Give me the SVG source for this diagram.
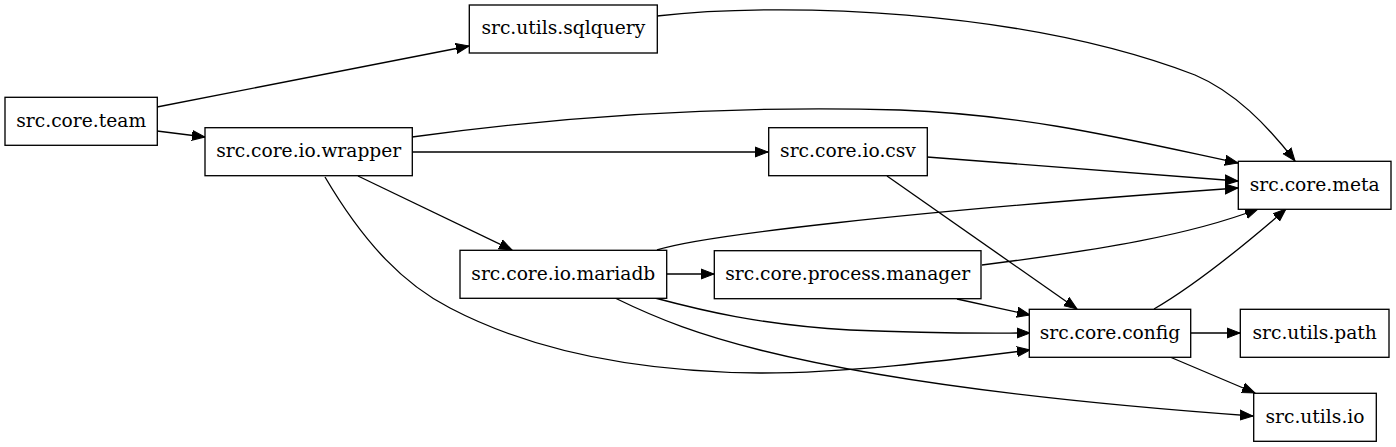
<svg xmlns="http://www.w3.org/2000/svg" width="1396" height="447" viewBox="0 0 1396 447">
<style>
.n rect{fill:#fff;stroke:#000;stroke-width:1.33}
.n text{font-family:"DejaVu Serif",serif;font-size:18.67px;text-anchor:middle;fill:#000}
.e path{fill:none;stroke:#000;stroke-width:1.33;marker-end:url(#ah)}
</style>
<defs>
<marker id="ah" markerUnits="userSpaceOnUse" markerWidth="14" markerHeight="12" refX="13" refY="5" orient="auto" viewBox="0 0 14 10">
<path d="M0,0 L13,5 L0,10 z" fill="#000" stroke="#000" stroke-width="1"/>
</marker>
</defs>
<rect width="1396" height="447" fill="#fff"/>
<g id="edges" class="e">
<path d="M157,107 L469,46"/>
<path d="M157,131 L205,137"/>
<path d="M657,16 C780,2 1020,8 1195,75 C1235,92 1267,125 1295,161"/>
<path d="M412,137 C550,118 720,105 900,110 C1030,115 1130,140 1238,163"/>
<path d="M412,152 L768,152"/>
<path d="M927,157 L1238,181"/>
<path d="M887,176 L1077,309"/>
<path d="M358,176 L512,250"/>
<path d="M325,177 C365,245 405,285 450,308 C540,355 650,372 760,373 C850,373 950,360 1030,350"/>
<path d="M657,250 C700,236 900,212 1238,188"/>
<path d="M667,274 L714,274"/>
<path d="M655,298 C700,310 760,325 850,330 C940,334 990,333 1030,333"/>
<path d="M615,298 C660,320 700,335 760,350 C900,385 1100,405 1253,416"/>
<path d="M982,265 C1100,250 1190,235 1258,209"/>
<path d="M957,299 L1030,315"/>
<path d="M1154,309 C1185,291 1225,262 1286,209"/>
<path d="M1191,333 L1240,333"/>
<path d="M1170,357 L1255,393"/>
</g>
<g id="team" class="n"><rect x="5" y="97.3" width="152.3" height="48"/><text x="81.2" y="126.5">src.core.team</text></g>
<g id="wrapper" class="n"><rect x="205" y="127.7" width="207.3" height="48"/><text x="308.7" y="157">src.core.io.wrapper</text></g>
<g id="sqlquery" class="n"><rect x="469.3" y="5" width="188" height="48"/><text x="563.3" y="34.3">src.utils.sqlquery</text></g>
<g id="csv" class="n"><rect x="768.7" y="127.7" width="158.6" height="48"/><text x="848" y="157">src.core.io.csv</text></g>
<g id="meta" class="n"><rect x="1238.3" y="161.3" width="152.7" height="48"/><text x="1314.7" y="190.6">src.core.meta</text></g>
<g id="mariadb" class="n"><rect x="460" y="250.3" width="206.7" height="48"/><text x="563.3" y="279.6">src.core.io.mariadb</text></g>
<g id="manager" class="n"><rect x="714.3" y="250.7" width="266.7" height="48"/><text x="847.7" y="280">src.core.process.manager</text></g>
<g id="config" class="n"><rect x="1029.3" y="309.3" width="161.4" height="48"/><text x="1110" y="338.6">src.core.config</text></g>
<g id="path" class="n"><rect x="1240.3" y="309.3" width="148.7" height="48"/><text x="1314.7" y="338.6">src.utils.path</text></g>
<g id="io" class="n"><rect x="1253.7" y="393.3" width="122.6" height="48"/><text x="1315" y="422.6">src.utils.io</text></g>
</svg>
